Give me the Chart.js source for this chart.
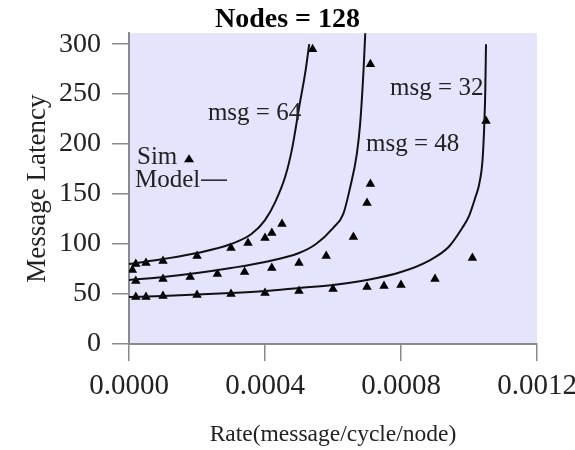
<!DOCTYPE html>
<html>
<head>
<meta charset="utf-8">
<script src="https://cdn.jsdelivr.net/npm/chart.js@4/dist/chart.umd.min.js"></script>
<style>
    html, body { margin: 0; padding: 0; background: #fff; }
    #wrap { width: 575px; height: 450px; }
</style>
</head>
<body>
<div id="wrap"><canvas id="latencyChart" width="575" height="450"></canvas></div>
<script>
// ===================== DATA =====================
const xTickValues = [0, 0.0004, 0.0008, 0.0012];
const yTickValues = [0, 50, 100, 150, 200, 250, 300];
const msgSizes = [64, 48, 32];

// Simulation points (triangles)
const sim64Rate = [0.00001, 0.00002, 0.00005, 0.0001, 0.0002, 0.0003, 0.00035, 0.0004, 0.00042, 0.00045, 0.00054];
const sim64Lat  = [74, 80, 81, 83, 88, 96, 101, 106, 111, 120, 295];
const sim48Rate = [0.00002, 0.0001, 0.00018, 0.00026, 0.00034, 0.00042, 0.0005, 0.00058, 0.00066, 0.0007, 0.00071, 0.00071];
const sim48Lat  = [63, 65, 67, 70, 72, 76, 81, 88, 107, 141, 160, 280];
const sim32Rate = [0.00002, 0.00005, 0.0001, 0.0002, 0.0003, 0.0004, 0.0005, 0.0006, 0.0007, 0.00075, 0.0008, 0.0009, 0.00101, 0.00105];
const sim32Lat  = [47, 47, 48, 49, 50, 51, 53, 55, 57, 58, 59, 65, 86, 223];

// Model curves (lines)
const model64Rate = [0, 0.0001, 0.0002, 0.0003, 0.00036, 0.0004, 0.00043, 0.00046, 0.00048, 0.0005, 0.00052, 0.00053];
const model64Lat  = [80, 85, 91, 100, 110, 124, 142, 168, 196, 236, 275, 300];
const model48Rate = [0, 0.0001, 0.0002, 0.0003, 0.0004, 0.0005, 0.00055, 0.0006, 0.00063, 0.00065, 0.00067, 0.00068, 0.00069, 0.000695];
const model48Lat  = [64, 67, 71, 76, 82, 91, 100, 116, 130, 156, 190, 221, 275, 312];
const model32Rate = [0, 0.0001, 0.0002, 0.0003, 0.0004, 0.0005, 0.0006, 0.0007, 0.0008, 0.00088, 0.00094, 0.00098, 0.001, 0.00102, 0.00103, 0.00104, 0.001045, 0.001048, 0.00105];
const model32Lat  = [47, 48, 49.5, 51, 53, 56, 59, 64, 72, 83, 97, 116, 128, 148, 160, 185, 220, 255, 300];

const serif = '"Liberation Serif", "Times New Roman", serif';
const toPoints = (xs, ys) => xs.map((v, i) => ({ x: v, y: ys[i] }));

// ===================== PLUGINS =====================
// lavender plot background
const plotBackground = {
    id: 'plotBackground',
    beforeDraw(chart) {
        const { ctx, chartArea: a } = chart;
        ctx.save();
        ctx.fillStyle = '#e4e4fc';
        ctx.fillRect(a.left, a.top, a.right - a.left, a.bottom - a.top);
        ctx.restore();
    }
};

// "msg = N" labels and the little Sim/Model key inside the plot
const plotLabels = {
    id: 'plotLabels',
    afterDatasetsDraw(chart) {
        const { ctx, chartArea: a, scales: { x, y } } = chart;
        const anchors = [[0.000232, 231], [0.000697, 200], [0.000768, 256]];
        ctx.save();
        ctx.font = '25px ' + serif;
        ctx.fillStyle = '#222';
        ctx.textBaseline = 'middle';
        ctx.textAlign = 'left';
        msgSizes.forEach((m, i) => {
            ctx.fillText('msg = ' + m, x.getPixelForValue(anchors[i][0]), y.getPixelForValue(anchors[i][1]));
        });

        // key
        const kx = a.left + 8, ky = a.top + 124;
        ctx.fillText('Sim', kx, ky);
        ctx.beginPath();
        ctx.moveTo(kx + 52, ky - 3);
        ctx.lineTo(kx + 47, ky + 5);
        ctx.lineTo(kx + 57, ky + 5);
        ctx.closePath();
        ctx.fillStyle = '#000';
        ctx.fill();
        ctx.fillStyle = '#222';
        ctx.fillText('Model', kx - 2, ky + 23);
        ctx.strokeStyle = '#222';
        ctx.lineWidth = 1.5;
        ctx.beginPath();
        ctx.moveTo(kx + 64, ky + 23);
        ctx.lineTo(kx + 90, ky + 23);
        ctx.stroke();
        ctx.restore();
    }
};

// ===================== CHART =====================
const simStyle = {
    showLine: false,
    pointStyle: 'triangle',
    pointRadius: 5.5,
    pointBackgroundColor: '#000',
    pointBorderColor: '#000',
    pointBorderWidth: 0
};
const modelStyle = {
    showLine: true,
    borderColor: '#111',
    borderWidth: 2,
    pointRadius: 0,
    cubicInterpolationMode: 'monotone',
    fill: false
};

new Chart(document.getElementById('latencyChart'), {
    type: 'scatter',
    data: {
        datasets: [
            { label: 'Model 64', data: toPoints(model64Rate, model64Lat), ...modelStyle },
            { label: 'Model 48', data: toPoints(model48Rate, model48Lat), ...modelStyle },
            { label: 'Model 32', data: toPoints(model32Rate, model32Lat), ...modelStyle },
            { label: 'Sim 64', data: toPoints(sim64Rate, sim64Lat), ...simStyle },
            { label: 'Sim 48', data: toPoints(sim48Rate, sim48Lat), ...simStyle },
            { label: 'Sim 32', data: toPoints(sim32Rate, sim32Lat), ...simStyle }
        ]
    },
    options: {
        responsive: false,
        animation: false,
        layout: { padding: 0 },
        plugins: {
            legend: { display: false },
            tooltip: { enabled: false },
            title: {
                display: true,
                text: 'Nodes = 128',
                color: '#000',
                font: { family: serif, size: 28, weight: 'bold', lineHeight: 0.97 },
                padding: { top: 6, bottom: 0 }
            }
        },
        scales: {
            x: {
                type: 'linear',
                min: 0,
                max: 0.0012,
                afterBuildTicks: (axis) => { axis.ticks = xTickValues.map(v => ({ value: v })); },
                afterFit: (axis) => {
                    axis.height = 106;
                    axis.paddingLeft = 0;
                    axis.paddingRight = 38;
                },
                ticks: {
                    color: '#222',
                    padding: 8,
                    maxRotation: 0,
                    font: { family: serif, size: 29 },
                    callback: (v) => Number(v).toFixed(4)
                },
                grid: { drawOnChartArea: false, tickLength: 17, color: '#8a8a8a', lineWidth: 1.5 },
                border: { color: '#8a8a8a', width: 2 },
                title: {
                    display: true,
                    text: 'Rate(message/cycle/node)',
                    color: '#222',
                    font: { family: serif, size: 23.5 },
                    padding: { top: 0, bottom: 1 }
                }
            },
            y: {
                type: 'linear',
                min: 0,
                max: 311,
                afterBuildTicks: (axis) => { axis.ticks = yTickValues.map(v => ({ value: v })); },
                afterFit: (axis) => {
                    axis.width = 129;
                    axis.paddingTop = 0;
                    axis.paddingBottom = 0;
                },
                ticks: {
                    color: '#222',
                    padding: 11,
                    font: { family: serif, size: 28 }
                },
                grid: { drawOnChartArea: false, tickLength: 17, color: '#8a8a8a', lineWidth: 1.5 },
                border: { color: '#8a8a8a', width: 2 },
                title: {
                    display: true,
                    text: 'Message Latency',
                    color: '#222',
                    font: { family: serif, size: 27 },
                    padding: { top: 22, bottom: 0 }
                }
            }
        }
    },
    plugins: [plotBackground, plotLabels]
});
</script>
</body>
</html>
